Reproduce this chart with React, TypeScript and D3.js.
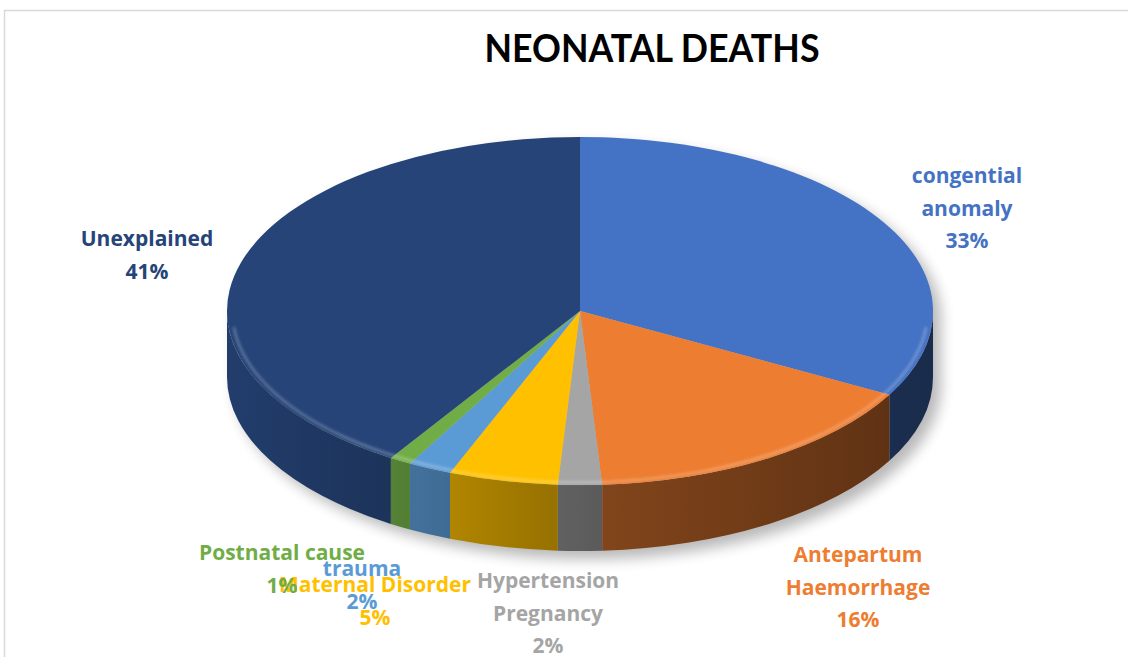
import React from "react";
import * as d3 from "d3";

// chart data
const categories = [
  "congential anomaly",
  "Antepartum Haemorrhage",
  "Hypertension Pregnancy",
  "Maternal Disorder",
  "trauma",
  "Postnatal cause",
  "Unexplained",
];
const values = [33, 16, 2, 5, 2, 1, 41];
const colors = ["#4472C4", "#ED7D31", "#A5A5A5", "#FFC000", "#5B9BD5", "#70AD47", "#264478"];
// how each label is broken into lines
const labelLines = [
  ["congential", "anomaly"],
  ["Antepartum", "Haemorrhage"],
  ["Hypertension", "Pregnancy"],
  ["Maternal Disorder"],
  ["trauma"],
  ["Postnatal cause"],
  ["Unexplained"],
];

// layout
const W = 1128, H = 657;
const cx = 580, cy = 311, rx = 353, ry = 174, depth = 66;
const lineH = 32.5;
const labelAnchors: [number, number][] = [
  [967, 175], [858, 554], [548, 580], [375, 584], [362, 568], [282, 552], [147, 238],
];

const pt = (a: number, r = 1): [number, number] => [cx + rx * r * Math.sin(a), cy - ry * r * Math.cos(a)];
const fmt = (p: [number, number], dy = 0) => `${p[0].toFixed(2)},${(p[1] + dy).toFixed(2)}`;

// side shading (light from the left)
const shade = d3.scaleLinear().domain([228, 390, 545, 600, 935]).range([0.9, 0.75, 0.6, 0.55, 0.38]).clamp(true);
const scaleColor = (c: string, k: number) => {
  const rgb = d3.rgb(c);
  return d3.rgb(rgb.r * k, rgb.g * k, rgb.b * k).formatHex();
};

export default function App() {
  const total = d3.sum(values);
  const arcs = d3.pie<number>().sort(null).startAngle(0).endAngle(2 * Math.PI)(values);
  const pct = (v: number) => d3.format(".0%")(v / total);

  const sides = arcs
    .map((a, i) => {
      const s = Math.max(a.startAngle, Math.PI / 2);
      const e = Math.min(a.endAngle, (3 * Math.PI) / 2);
      if (s >= e) return null;
      const ps = pt(s), pe = pt(e);
      const d = `M${fmt(ps)} A${rx},${ry} 0 0 1 ${fmt(pe)} L${fmt(pe, depth)} A${rx},${ry} 0 0 0 ${fmt(ps, depth)} Z`;
      const xs = [ps[0], pe[0]];
      return { i, d, x0: d3.min(xs)!, x1: d3.max(xs)! };
    })
    .filter((s) => s !== null) as { i: number; d: string; x0: number; x1: number }[];

  const silhouette = `M${fmt(pt(-Math.PI / 2))} A${rx},${ry} 0 0 1 ${fmt(pt(Math.PI / 2))} L${fmt(pt(Math.PI / 2), depth)} A${rx},${ry} 0 0 1 ${fmt(pt(-Math.PI / 2), depth)} Z`;
  const rim = `M${fmt(pt(Math.PI * 0.53, 0.985))} A${rx * 0.985},${ry * 0.985} 0 0 1 ${fmt(pt(Math.PI * 1.47, 0.985))}`;

  return (
    <svg width={W} height={H} style={{ position: "absolute", left: 0, top: 0 }} fontFamily="'Open Sans', Lato, sans-serif">
      <defs>
        <filter id="shadow" x="-20%" y="-20%" width="140%" height="150%">
          <feGaussianBlur stdDeviation="7" />
        </filter>
        <filter id="soft" x="-5%" y="-5%" width="110%" height="120%">
          <feGaussianBlur stdDeviation="1.5" />
        </filter>
        {sides.map((s) => (
          <linearGradient key={s.i} id={`side${s.i}`} gradientUnits="userSpaceOnUse" x1={s.x0} y1={0} x2={s.x1} y2={0}>
            {d3.range(0, 1.0001, 0.25).map((t) => (
              <stop key={t} offset={t} stopColor={scaleColor(colors[s.i], shade(s.x0 + t * (s.x1 - s.x0)))} />
            ))}
          </linearGradient>
        ))}
      </defs>
      <rect width={W} height={H} fill="#fff" />
      <rect x={4.5} y={10.5} width={W + 20} height={H + 20} fill="none" stroke="#d9d9d9" strokeWidth={1.5} />

      <text x={652} y={62} textAnchor="middle" fontSize={38} fontWeight="bold" fill="#000" fontFamily="Lato, sans-serif" textLength={335} lengthAdjust="spacingAndGlyphs">
        NEONATAL DEATHS
      </text>

      {/* shadow */}
      <path d={silhouette} transform="translate(8,8)" fill="#000" opacity={0.28} filter="url(#shadow)" />

      {/* sides */}
      {sides.map((s) => (
        <path key={s.i} d={s.d} fill={`url(#side${s.i})`} />
      ))}

      {/* top faces */}
      {arcs.map((a, i) => {
        const p0 = pt(a.startAngle), p1 = pt(a.endAngle);
        const large = a.endAngle - a.startAngle > Math.PI ? 1 : 0;
        return (
          <path key={i} d={`M${cx},${cy} L${fmt(p0)} A${rx},${ry} 0 ${large} 1 ${fmt(p1)} Z`} fill={colors[i]} />
        );
      })}
      <path d={rim} fill="none" stroke="#fff" strokeOpacity={0.35} strokeWidth={2} filter="url(#soft)" />

      {/* labels */}
      {arcs.map((a, i) => {
        const [lx, ly] = labelAnchors[i];
        const lines = [...labelLines[i], pct(values[i])];
        return (
          <text key={i} x={lx} y={ly} textAnchor="middle" fontSize={21} fontWeight="bold" fill={colors[i]} dominantBaseline="central">
            {lines.map((l, j) => (
              <tspan key={j} x={lx} dy={j === 0 ? 0 : lineH}>
                {l}
              </tspan>
            ))}
          </text>
        );
      })}
    </svg>
  );
}
